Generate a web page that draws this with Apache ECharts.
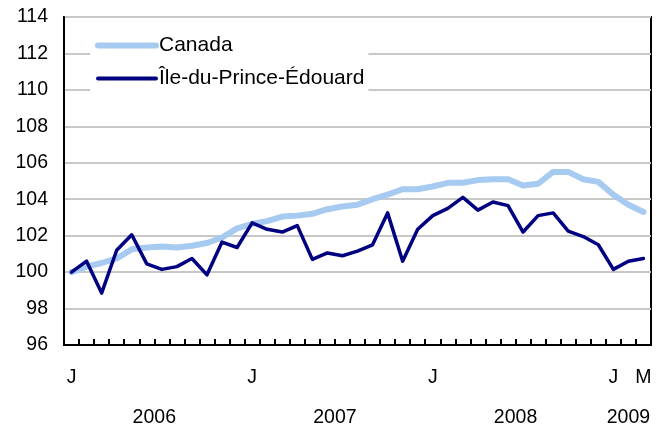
<!DOCTYPE html>
<html>
<head>
<meta charset="utf-8">
<script src="https://cdn.jsdelivr.net/npm/echarts@6/dist/echarts.min.js"></script>
<style>
html,body{margin:0;padding:0;background:#fff;}
#c{width:670px;height:435px;}
</style>
</head>
<body>
<div id="c"></div>
<script>
// Months Jan 2006 .. Mar 2009
const monthLetters = ['J','F','M','A','M','J','J','A','S','O','N','D','J','F','M','A','M','J','J','A','S','O','N','D','J','F','M','A','M','J','J','A','S','O','N','D','J','F','M'];
const years = ['2006','2007','2008','2009'];
const monthsPerYear = [12, 12, 12, 3];
const canada = [100.0,100.3,100.5,100.75,101.25,101.35,101.4,101.35,101.45,101.6,101.9,102.4,
  102.65,102.8,103.05,103.1,103.2,103.45,103.6,103.7,104.0,104.25,104.55,104.55,
  104.7,104.9,104.9,105.05,105.1,105.1,104.75,104.85,105.5,105.5,105.1,104.95,
  104.25,103.7,103.3];
const pei = [100.0,100.6,98.85,101.2,102.05,100.45,100.15,100.3,100.75,99.85,101.65,101.35,
  102.7,102.35,102.2,102.55,100.7,101.05,100.9,101.15,101.5,103.25,100.6,102.35,
  103.1,103.5,104.1,103.4,103.85,103.65,102.2,103.1,103.25,102.25,101.95,101.5,
  100.15,100.6,100.75];
const seriesNames = ['Canada', 'Île-du-Prince-Édouard'];
const yTicks = {min: 96, max: 114, step: 2};

// year label centres (in month units) derived from month counts
const yearCentres = {};
let acc = 0;
monthsPerYear.forEach((n, k) => { yearCentres[(acc + n / 2).toFixed(2)] = years[k]; acc += n; });

const FONT = 'Liberation Sans, Arial, sans-serif';
const LBL = 19.5;
const chart = echarts.init(document.getElementById('c'), null, {renderer: 'canvas'});
chart.setOption({
  animation: false,
  backgroundColor: '#fff',
  grid: {left: 64, right: 19, top: 17, bottom: 90, show: true, borderColor: '#000', borderWidth: 2, backgroundColor: 'transparent'},
  legend: {
    orient: 'vertical', left: 90, top: 31,
    backgroundColor: '#fff',
    padding: [4, 4, 4, 5],
    itemWidth: 58, itemHeight: 14, itemGap: 12,
    itemStyle: {opacity: 0},
    data: [
      {name: seriesNames[0], lineStyle: {width: 6, color: '#a6caf0', cap: 'round'}},
      {name: seriesNames[1], lineStyle: {width: 4, color: '#000080', cap: 'round'}}
    ],
    textStyle: {fontFamily: FONT, fontSize: 21, color: '#000', padding: [0, 0, 0, -2]}
  },
  xAxis: [{
    type: 'category', data: monthLetters, boundaryGap: true,
    axisLine: {show: true, lineStyle: {color: '#000', width: 2}},
    axisTick: {show: true, inside: true, length: 6, interval: 0, lineStyle: {color: '#000', width: 2}},
    axisLabel: {
      interval: (i) => i % 12 === 0 || i === monthLetters.length - 1,
      fontFamily: FONT, fontSize: LBL, color: '#000', margin: 23
    },
    splitLine: {show: false},
    z: 10
  }, {
    type: 'value', min: 0, max: monthLetters.length, interval: 1.5, position: 'bottom',
    axisLine: {show: false}, axisTick: {show: false}, splitLine: {show: false},
    axisLabel: {
      fontFamily: FONT, fontSize: LBL, color: '#000', margin: 63,
      showMinLabel: true, showMaxLabel: true,
      formatter: (v) => yearCentres[Number(v).toFixed(2)] || ''
    }
  }],
  yAxis: {
    type: 'value', min: yTicks.min, max: yTicks.max, interval: yTicks.step,
    axisLine: {show: true, lineStyle: {color: '#000', width: 2}},
    axisTick: {show: false},
    axisLabel: {fontFamily: FONT, fontSize: LBL, color: '#000', margin: 16},
    splitLine: {show: true, lineStyle: {color: '#c8c8c8', width: 2}}
  },
  series: [{
    name: seriesNames[0], type: 'line', data: canada, xAxisIndex: 0,
    symbol: 'none', smooth: false,
    lineStyle: {color: '#a6caf0', width: 6, cap: 'round', join: 'round'},
    itemStyle: {color: '#a6caf0'}, z: 2
  }, {
    name: seriesNames[1], type: 'line', data: pei, xAxisIndex: 0,
    symbol: 'none', smooth: false,
    lineStyle: {color: '#000080', width: 3.5, cap: 'round', join: 'round'},
    itemStyle: {color: '#000080'}, z: 3
  }]
});
</script>
</body>
</html>
